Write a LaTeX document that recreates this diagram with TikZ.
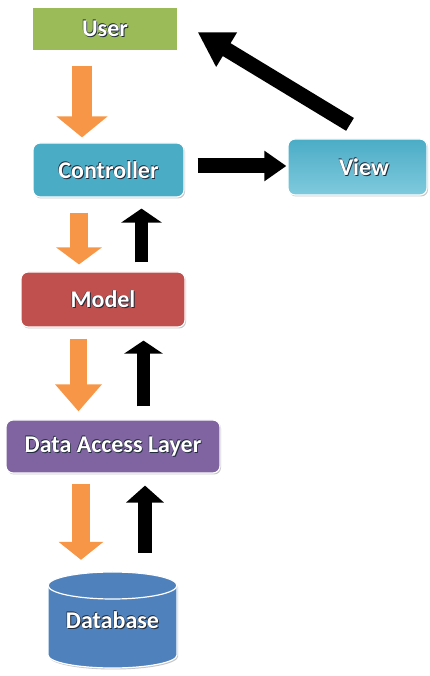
\documentclass[tikz,border=0pt]{standalone}
\usepackage{fontspec}
\setmainfont{Carlito}
\usetikzlibrary{arrows.meta,shadows,calc}
\definecolor{ugreen}{HTML}{9BBB59}
\definecolor{ccyan}{HTML}{4BACC6}
\definecolor{vlight}{HTML}{7FCADD}
\definecolor{mred}{HTML}{C0504D}
\definecolor{dpurple}{HTML}{8064A2}
\definecolor{dblue}{HTML}{4F81BD}
\definecolor{aorange}{HTML}{F79646}
\definecolor{txtsh}{HTML}{1F2A3A}
\newcommand\otxt[1]{\setbox0\hbox{#1}%
  \rlap{\textcolor{txtsh}{\kern0.9pt\lower0.9pt\copy0}}%
  \rlap{\textcolor{txtsh}{\kern-0.5pt\raise0.5pt\copy0}}%
  \box0}
\begin{document}
\begin{tikzpicture}[x=1pt,y=1pt,
  layer/.style={draw=white, line width=1.2pt, text=white,
    font=\fontsize{24}{28}\selectfont\bfseries, inner sep=0pt,
    drop shadow={shadow xshift=1pt,shadow yshift=-1.5pt,fill=black!45}},
  rbox/.style={layer, rounded corners=7pt},
  oarr/.style={draw=aorange},
  barr/.style={draw=black}]
\useasboundingbox (0,0) rectangle (429,676);

\node[layer, fill=ugreen, minimum width=146pt, minimum height=44pt] (user) at (105,647) {\otxt{User}};
\node[rbox, fill=ccyan, minimum width=151pt, minimum height=54pt] (ctrl) at (108.5,506) {\otxt{Controller}};
\node[rbox, top color=ccyan, bottom color=vlight, minimum width=139pt, minimum height=56pt] (view) at (357.5,509) {\hspace*{13pt}\otxt{View}};
\node[rbox, fill=mred, minimum width=164pt, minimum height=55pt] (model) at (103,376.5) {\otxt{Model}};
\node[rbox, fill=dpurple, minimum width=214pt, minimum height=53pt] (dal) at (113,229.5) {\otxt{Data Access Layer}};

% database cylinder
\path[fill=dblue, draw=white, line width=1.2pt,
  drop shadow={shadow xshift=1pt,shadow yshift=-1.5pt,fill=black!45}]
  (48,90.5) -- (48,21) arc[start angle=180,end angle=360,x radius=64.5pt,y radius=13pt]
  -- (177,90.5) arc[start angle=0,end angle=180,x radius=64.5pt,y radius=13.5pt] -- cycle;
\draw[fill=dblue, draw=white, line width=1.2pt] (112.5,90.5) ellipse[x radius=64.5pt,y radius=13.5pt];
\node[text=white, font=\fontsize{24}{28}\selectfont\bfseries, inner sep=0pt,
  minimum width=129pt, minimum height=96pt] (db) at (112.5,56) {\otxt{Database}};

% downward orange arrows
\draw[oarr, line width=20pt, -{Triangle[length=21pt,width=50pt]}]
  ([xshift=-23pt,yshift=-14pt]user.south) -- ([xshift=-26.5pt,yshift=5pt]ctrl.north);
\draw[oarr, line width=18pt, -{Triangle[length=17pt,width=45pt]}]
  ([xshift=-29.5pt,yshift=-15pt]ctrl.south) -- ([xshift=-24pt,yshift=7pt]model.north);
\draw[oarr, line width=17pt, -{Triangle[length=27pt,width=45pt]}]
  ([xshift=-24.5pt,yshift=-11pt]model.south) -- ([xshift=-34.5pt,yshift=8pt]dal.north);
\draw[oarr, line width=18pt, -{Triangle[length=18pt,width=44pt]}]
  ([xshift=-32pt,yshift=-10pt]dal.south) -- ([xshift=-31.5pt,yshift=12pt]db.north);

% upward black arrows
\draw[barr, line width=13pt, -{Triangle[length=14pt,width=40pt]}]
  ([xshift=38.5pt,yshift=9pt]model.north) -- ([xshift=33pt,yshift=-11pt]ctrl.south);
\draw[barr, line width=13pt, -{Triangle[length=13pt,width=38pt]}]
  ([xshift=30.5pt,yshift=13pt]dal.north) -- ([xshift=40.5pt,yshift=-13pt]model.south);
\draw[barr, line width=14pt, -{Triangle[length=17pt,width=37pt]}]
  ([xshift=32.5pt,yshift=19pt]db.north) -- ([xshift=32pt,yshift=-12pt]dal.south);

% controller -> view
\draw[barr, line width=15pt, -{Triangle[length=22pt,width=29pt]}]
  ([xshift=13pt,yshift=4pt]ctrl.east) -- ([xshift=-1pt,yshift=1pt]view.west);
% view -> user
\draw[barr, line width=15pt, -{Triangle[length=34pt,width=38pt]}]
  ([xshift=-7.5pt,yshift=14pt]view.north) -- ([xshift=19pt,yshift=-3pt]user.east);
\end{tikzpicture}
\end{document}
